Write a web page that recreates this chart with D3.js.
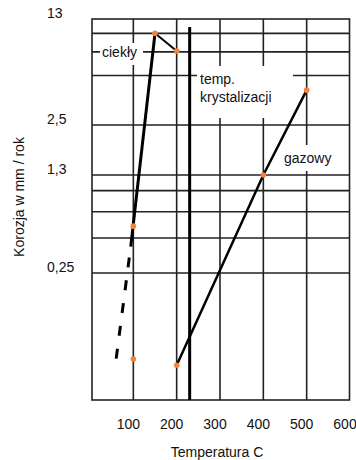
<!DOCTYPE html>
<html>
<head>
<meta charset="utf-8">
<script src="https://cdn.jsdelivr.net/npm/d3@7"></script>
<style>
  body { margin: 0; background: #fff; }
  text { font-family: "Liberation Sans", Arial, sans-serif; font-size: 14px; fill: #111; }
</style>
</head>
<body>
<svg width="356" height="460"></svg>
<script>

// data
let xTicks = [100, 200, 300, 400, 500, 600]
let xGrid = [100, 200, 300, 400, 500]
let yTicks = [13, 2.5, 1.3, 0.25]
let yTickLabels = ["13", "2,5", "1,3", "0,25"]
let yGrid = [10.4, 7.8, 5.4, 2.5, 1.3, 1.0, 0.7, 0.45, 0.25]

let cieklyLine = [[150, 10.4], [94, 0.39]]
let cieklyTop = [[150, 10.4], [200, 7.9]]
let cieklyDashed = [[94, 0.39], [60, 0.065]]
let cieklyDots = [[150, 10.4], [200, 7.9], [100, 0.55], [100, 0.066]]

let gazowyLine = [[200, 0.06], [400, 1.3], [500, 4.3]]
let gazowyDots = [[200, 0.06], [400, 1.3], [500, 4.3]]

let tempKryst = 230

let svg = d3.select("svg")

let plotLeft = 92, plotRight = 349.5, plotTop = 19, plotBottom = 400

let x = d3.scaleLinear()
  .domain([0, 600])
  .range([90, 350])

// hand drawn log axis, so the stops follow the printed grid
let y = d3.scaleLog()
  .domain([0.035, 0.25, 1.3, 2.5, 13])
  .range([plotBottom, 273, 175, 125, plotTop])

let grid = svg.append("g")
  .attr("stroke", "#222")
  .attr("stroke-width", 1.6)

grid.selectAll(".hgrid")
  .data(yGrid)
  .enter()
  .append("line")
  .attr("x1", plotLeft)
  .attr("x2", plotRight)
  .attr("y1", d => y(d))
  .attr("y2", d => y(d))

grid.selectAll(".vgrid")
  .data(xGrid)
  .enter()
  .append("line")
  .attr("x1", d => x(d))
  .attr("x2", d => x(d))
  .attr("y1", plotTop)
  .attr("y2", plotBottom)

// frame
svg.append("rect")
  .attr("x", plotLeft)
  .attr("y", plotTop)
  .attr("width", plotRight - plotLeft)
  .attr("height", plotBottom - plotTop)
  .attr("fill", "none")
  .attr("stroke", "#222")
  .attr("stroke-width", 1.6)

// labels inside the plot sit on white boxes that hide the grid
function boxLabel(bx, by, bw, bh, lines, tx, ty) {
  svg.append("rect")
    .attr("x", bx)
    .attr("y", by)
    .attr("width", bw)
    .attr("height", bh)
    .attr("fill", "#fff")

  lines.forEach(function (t, i) {
    svg.append("text")
      .attr("x", tx)
      .attr("y", ty + i * 18)
      .text(t)
  })
}

boxLabel(100, 43, 43, 22, ["ciekły"], 102, 57)
boxLabel(197, 66, 96, 52, ["temp.", "krystalizacji"], 200, 84)
boxLabel(281, 145, 60, 26, ["gazowy"], 284, 163)

// y tick labels
svg.selectAll(".ylab")
  .data(yTicks)
  .enter()
  .append("text")
  .attr("x", 47)
  .attr("y", d => y(d) - 1)
  .text((d, i) => yTickLabels[i])

// x tick labels
svg.selectAll(".xlab")
  .data(xTicks)
  .enter()
  .append("text")
  .attr("x", d => x(d) - 5)
  .attr("y", 429)
  .attr("text-anchor", "middle")
  .text(d => d)

svg.append("text")
  .attr("x", 217)
  .attr("y", 457)
  .attr("text-anchor", "middle")
  .text("Temperatura C")

svg.append("text")
  .attr("transform", "translate(24,197) rotate(-90)")
  .attr("text-anchor", "middle")
  .text("Korozja w mm / rok")

// crystallisation temperature
svg.append("line")
  .attr("x1", x(tempKryst))
  .attr("x2", x(tempKryst))
  .attr("y1", 27)
  .attr("y2", plotBottom)
  .attr("stroke", "#000")
  .attr("stroke-width", 3)

let line = d3.line()
  .x(d => x(d[0]))
  .y(d => y(d[1]))

svg.append("path")
  .attr("d", line(cieklyLine))
  .attr("fill", "none")
  .attr("stroke", "#000")
  .attr("stroke-width", 3)

svg.append("path")
  .attr("d", line(cieklyTop))
  .attr("fill", "none")
  .attr("stroke", "#000")
  .attr("stroke-width", 2)

svg.append("path")
  .attr("d", line(cieklyDashed))
  .attr("fill", "none")
  .attr("stroke", "#000")
  .attr("stroke-width", 3)
  .attr("stroke-dasharray", "10,13")
  .attr("stroke-dashoffset", 12)

svg.append("path")
  .attr("d", line(gazowyLine))
  .attr("fill", "none")
  .attr("stroke", "#000")
  .attr("stroke-width", 2.5)

svg.selectAll(".dot")
  .data(cieklyDots.concat(gazowyDots))
  .enter()
  .append("circle")
  .attr("cx", d => x(d[0]))
  .attr("cy", d => y(d[1]))
  .attr("r", 2.8)
  .attr("fill", "#f7813a")

</script>
</body>
</html>
